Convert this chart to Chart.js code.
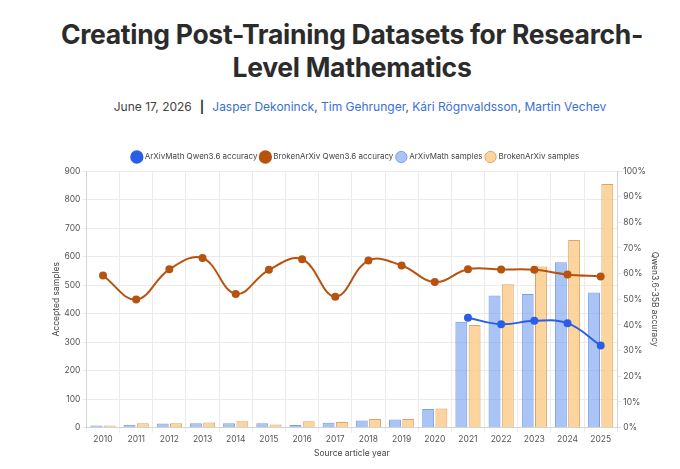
<!DOCTYPE html>
<html>
<head>
<meta charset="utf-8">
<script src="https://cdn.jsdelivr.net/npm/chart.js@4.4.1/dist/chart.umd.min.js"></script>
<style>
  html, body { margin: 0; padding: 0; background: #fff; }
  body { width: 680px; height: 469px; position: relative; overflow: hidden; font-family: Inter, "Noto Sans", sans-serif; }
  h1 {
    position: absolute; left: 42px; width: 620px; top: 18px; margin: 0;
    font-size: 26.5px; line-height: 32.5px; font-weight: 700; color: #2b2b2b;
    text-align: center; letter-spacing: -0.3px;
  }
  .meta {
    position: absolute; left: 20px; width: 680px; top: 99px; text-align: center;
    font-size: 12px; color: #444;
  }
  .meta .sep { color: #333; font-weight: 700; margin: 0 8px; }
  .meta a { color: #3a6fd6; text-decoration: none; }
  .chart-box { position: absolute; left: 50px; top: 149px; width: 612px; height: 310px; }
</style>
</head>
<body>
<h1>Creating Post-Training Datasets for Research-Level Mathematics</h1>
<div class="meta">June 17, 2026<span class="sep">|</span><a>Jasper Dekoninck</a>, <a>Tim Gehrunger</a>, <a>Kári Rögnvaldsson</a>, <a>Martin Vechev</a></div>
<div class="chart-box"><canvas id="myChart"></canvas></div>
<script>
  // Data
  var years = ['2010', '2011', '2012', '2013', '2014', '2015', '2016', '2017',
               '2018', '2019', '2020', '2021', '2022', '2023', '2024', '2025'];
  var arxivMathSamples = [7, 10, 14, 15, 15, 15, 9, 17, 25, 28, 65, 371, 463, 469, 580, 474];
  var brokenArxivSamples = [7, 15, 15, 18, 22, 11, 22, 20, 30, 30, 67, 360, 503, 565, 658, 854];
  var arxivMathAccuracy = [null, null, null, null, null, null, null, null,
                           null, null, null, 42.8, 40.3, 41.6, 40.7, 32.0];
  var brokenArxivAccuracy = [59.3, 49.9, 61.7, 66.1, 52.1, 61.5, 65.6, 51.0,
                             65.1, 63.2, 56.7, 61.7, 61.6, 61.5, 59.7, 58.9];

  var tickColor = '#555';
  var gridColor = '#ebebeb';
  var tickFont = { family: 'Inter', size: 8.5 };

  var ctx = document.getElementById('myChart').getContext('2d');

  var data = {
    labels: years,
    datasets: [
      {
        type: 'line',
        label: 'ArXivMath Qwen3.6 accuracy',
        data: arxivMathAccuracy,
        yAxisID: 'y1',
        borderColor: '#2a5ee6',
        backgroundColor: '#2a5ee6',
        borderWidth: 2,
        pointRadius: 3,
        tension: 0.4,
      },
      {
        type: 'line',
        label: 'BrokenArXiv Qwen3.6 accuracy',
        data: brokenArxivAccuracy,
        yAxisID: 'y1',
        borderColor: '#b8530f',
        backgroundColor: '#b8530f',
        borderWidth: 2,
        pointRadius: 3,
        tension: 0.4,
      },
      {
        label: 'ArXivMath samples',
        data: arxivMathSamples,
        yAxisID: 'y',
        backgroundColor: 'rgba(120, 160, 240, 0.62)',
        borderColor: '#7d9de6',
        borderWidth: 1,
      },
      {
        label: 'BrokenArXiv samples',
        data: brokenArxivSamples,
        yAxisID: 'y',
        backgroundColor: 'rgba(252, 205, 140, 0.85)',
        borderColor: '#dca568',
        borderWidth: 1,
      },
    ],
  };

  var options = {
    responsive: true,
    maintainAspectRatio: false,
    animation: false,
    plugins: {
      legend: {
        position: 'top',
        labels: {
          usePointStyle: true,
          pointStyle: 'circle',
          boxWidth: 13,
          boxHeight: 13,
          padding: 4,
          color: '#444',
          font: { family: 'Inter', size: 8 },
        },
      },
      tooltip: { mode: 'index', intersect: false },
    },
    scales: {
      x: {
        grid: { color: gridColor, tickLength: 5 },
        ticks: { color: tickColor, font: tickFont, padding: 2 },
        title: { display: true, text: 'Source article year', color: '#444', font: tickFont, padding: { top: 2, bottom: 0 } },
      },
      y: {
        position: 'left',
        min: 0,
        max: 900,
        ticks: { stepSize: 100, color: tickColor, font: tickFont, padding: 2 },
        grid: { color: gridColor, tickLength: 4 },
        title: { display: true, text: 'Accepted samples', color: '#444', font: tickFont, padding: 1 },
      },
      y1: {
        position: 'right',
        min: 0,
        max: 100,
        ticks: {
          stepSize: 10,
          color: tickColor,
          font: tickFont,
          padding: 2,
          callback: function (v) { return v + '%'; },
        },
        grid: { drawOnChartArea: false, tickLength: 4 },
        title: { display: true, text: 'Qwen3.6-35B accuracy', color: '#444', font: tickFont, padding: 2 },
      },
    },
  };

  var chart = new Chart(ctx, {
    type: 'bar',
    data: data,
    options: options,
  });
</script>
</body>
</html>
